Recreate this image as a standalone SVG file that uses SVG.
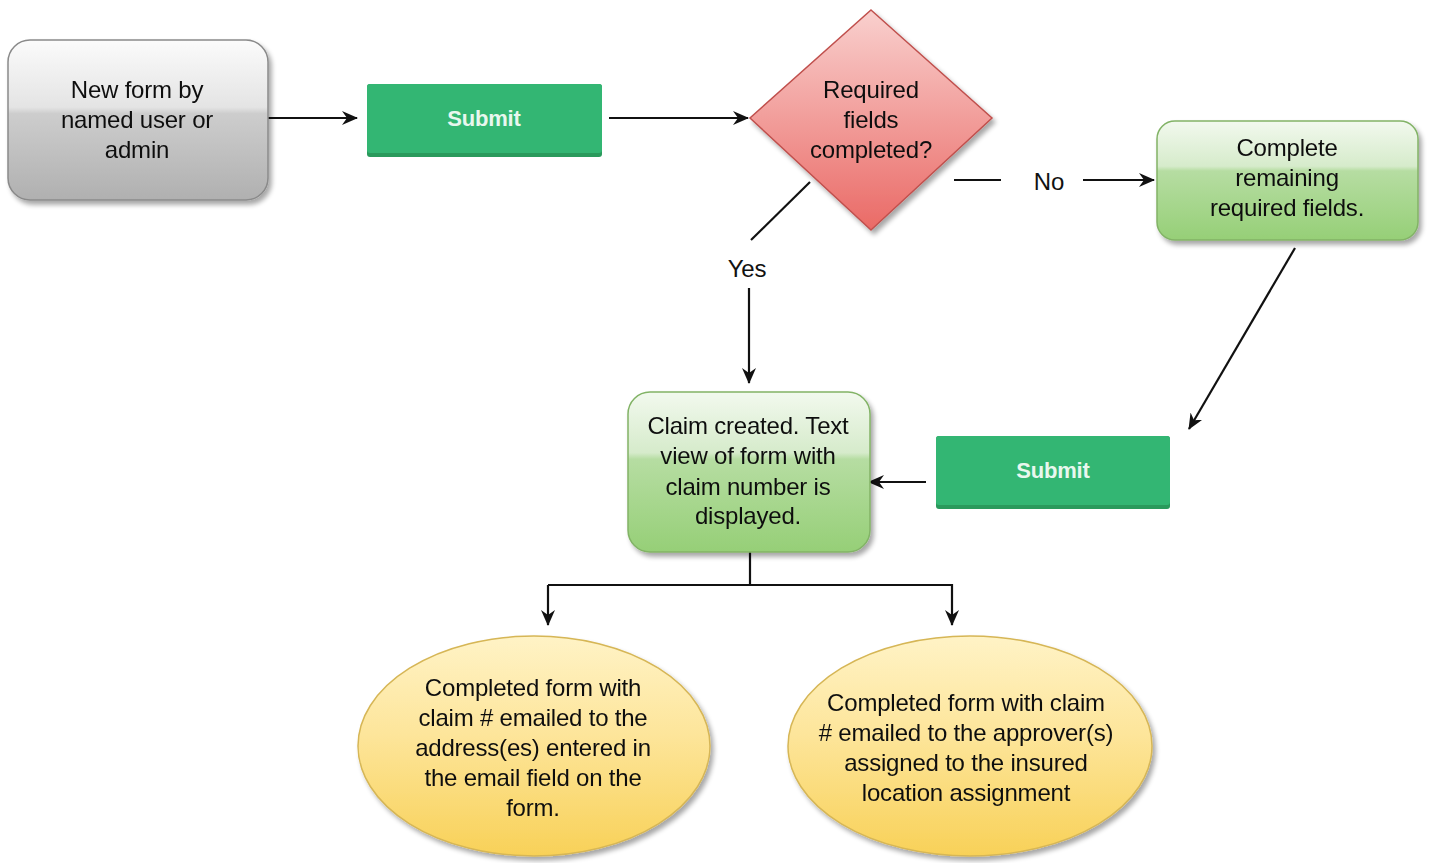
<svg xmlns="http://www.w3.org/2000/svg" width="1429" height="863" viewBox="0 0 1429 863">
<defs>
<style>
text{font-family:"Liberation Sans",Arial,sans-serif;font-size:24px;fill:#111;text-anchor:middle;letter-spacing:-0.2px}
.btn{font-size:22px;font-weight:bold;fill:#e8f7ee}
.ln{stroke:#111;stroke-width:2.2;fill:none}
</style>
<linearGradient id="gGray" x1="0" y1="0" x2="0" y2="1">
<stop offset="0" stop-color="#fbfbfb"/><stop offset="0.42" stop-color="#e4e4e4"/><stop offset="0.46" stop-color="#cdcdcd"/><stop offset="1" stop-color="#b0b0b0"/>
</linearGradient>
<linearGradient id="gGreen" x1="0" y1="0" x2="0" y2="1">
<stop offset="0" stop-color="#f2f9ee"/><stop offset="0.38" stop-color="#d6ebcb"/><stop offset="0.42" stop-color="#b6dda2"/><stop offset="1" stop-color="#96cf77"/>
</linearGradient>
<linearGradient id="gRed" x1="0" y1="0" x2="0" y2="1">
<stop offset="0" stop-color="#f9d0ce"/><stop offset="1" stop-color="#ea6a66"/>
</linearGradient>
<linearGradient id="gYel" x1="0" y1="0" x2="0" y2="1">
<stop offset="0" stop-color="#fff3c6"/><stop offset="0.45" stop-color="#fde59a"/><stop offset="1" stop-color="#f8d158"/>
</linearGradient>
<filter id="sh" x="-10%" y="-10%" width="125%" height="130%">
<feGaussianBlur in="SourceAlpha" stdDeviation="2.5"/><feOffset dx="3" dy="4"/>
<feComponentTransfer><feFuncA type="linear" slope="0.35"/></feComponentTransfer>
<feMerge><feMergeNode/><feMergeNode in="SourceGraphic"/></feMerge>
</filter>
<marker id="ah" viewBox="0 0 16 14" refX="15" refY="7" markerWidth="16" markerHeight="14" markerUnits="userSpaceOnUse" orient="auto">
<path d="M0,0 L16,7 L0,14 L5,7 Z" fill="#111"/>
</marker>
</defs>

<g id="connectors">
<line class="ln" x1="268" y1="118" x2="357" y2="118" marker-end="url(#ah)"/>
<line class="ln" x1="609" y1="118" x2="748" y2="118" marker-end="url(#ah)"/>
<line class="ln" x1="954" y1="180" x2="1001" y2="180"/>
<text x="1049" y="190">No</text>
<line class="ln" x1="1083" y1="180" x2="1154" y2="180" marker-end="url(#ah)"/>
<line class="ln" x1="810" y1="182" x2="751" y2="240"/>
<text x="747" y="277">Yes</text>
<line class="ln" x1="749" y1="288" x2="749" y2="383" marker-end="url(#ah)"/>
<line class="ln" x1="1295" y1="248" x2="1189" y2="429" marker-end="url(#ah)"/>
<line class="ln" x1="926" y1="482" x2="869" y2="482" marker-end="url(#ah)"/>
<polyline class="ln" points="750,552 750,585"/>
<polyline class="ln" points="548,585 952,585 952,625" marker-end="url(#ah)"/>
<line class="ln" x1="548" y1="585" x2="548" y2="625" marker-end="url(#ah)"/>
</g>

<g id="node-newform" filter="url(#sh)">
<rect x="8" y="40" width="260" height="160" rx="22" fill="url(#gGray)" stroke="#8a8a8a" stroke-width="1.5"/>
<text x="137" y="98">New form by</text>
<text x="137" y="128">named user or</text>
<text x="137" y="158">admin</text>
</g>

<g id="node-submit1">
<rect x="367" y="84" width="235" height="73" rx="3" fill="#2a9a5c"/>
<rect x="367" y="84" width="235" height="69" rx="3" fill="#33b673"/>
<text class="btn" x="484" y="126">Submit</text>
</g>

<g id="node-decision" filter="url(#sh)">
<polygon points="871,10 992,118 871,230 750,118" fill="url(#gRed)" stroke="#c0504d" stroke-width="1.5"/>
<text x="871" y="98">Required</text>
<text x="871" y="128">fields</text>
<text x="871" y="158">completed?</text>
</g>

<g id="node-complete" filter="url(#sh)">
<rect x="1157" y="121" width="261" height="119" rx="18" fill="url(#gGreen)" stroke="#82b366" stroke-width="1.5"/>
<text x="1287" y="156">Complete</text>
<text x="1287" y="186">remaining</text>
<text x="1287" y="216">required fields.</text>
</g>

<g id="node-submit2">
<rect x="936" y="436" width="234" height="73" rx="3" fill="#2a9a5c"/>
<rect x="936" y="436" width="234" height="69" rx="3" fill="#33b673"/>
<text class="btn" x="1053" y="478">Submit</text>
</g>

<g id="node-claim" filter="url(#sh)">
<rect x="628" y="392" width="242" height="160" rx="22" fill="url(#gGreen)" stroke="#82b366" stroke-width="1.5"/>
<text x="748" y="434">Claim created. Text</text>
<text x="748" y="464">view of form with</text>
<text x="748" y="495">claim number is</text>
<text x="748" y="524">displayed.</text>
</g>

<g id="node-email1" filter="url(#sh)">
<ellipse cx="534" cy="746" rx="176" ry="110" fill="url(#gYel)" stroke="#d6b656" stroke-width="1.5"/>
<text x="533" y="696">Completed form with</text>
<text x="533" y="726">claim # emailed to the</text>
<text x="533" y="756">address(es) entered in</text>
<text x="533" y="786">the email field on the</text>
<text x="533" y="816">form.</text>
</g>

<g id="node-email2" filter="url(#sh)">
<ellipse cx="970" cy="746" rx="182" ry="110" fill="url(#gYel)" stroke="#d6b656" stroke-width="1.5"/>
<text x="966" y="711">Completed form with claim</text>
<text x="966" y="741"># emailed to the approver(s)</text>
<text x="966" y="771">assigned to the insured</text>
<text x="966" y="801">location assignment</text>
</g>
</svg>
